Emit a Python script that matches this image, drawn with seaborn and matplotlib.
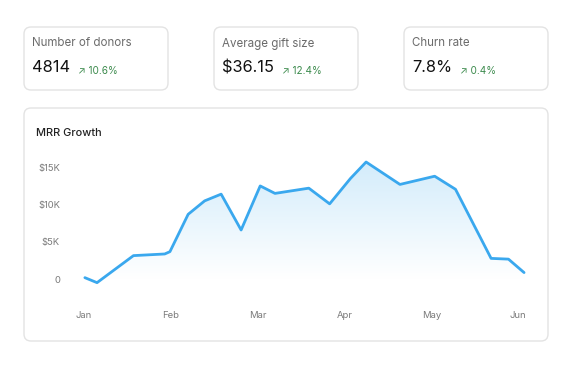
import numpy as np
import matplotlib
matplotlib.use("Agg")
import matplotlib.pyplot as plt
import seaborn as sns
from matplotlib.patches import FancyBboxPatch
from matplotlib.colors import LinearSegmentedColormap

sns.set_style("white")
plt.rcParams['font.family'] = ['Inter', 'DejaVu Sans']

# KPI cards
kpi_titles = ["Number of donors", "Average gift size", "Churn rate"]
kpi_values = ["4814", "$36.15", "7.8%"]
kpi_changes = ["10.6%", "12.4%", "0.4%"]

# MRR growth series (x in months since Jan, y in dollars)
months = ["Jan", "Feb", "Mar", "Apr", "May", "Jun"]
mrr_x = [0.01, 0.15, 0.57, 0.93, 0.99, 1.20, 1.39, 1.58, 1.81, 2.03, 2.20,
         2.59, 2.83, 3.07, 3.25, 3.64, 4.04, 4.28, 4.69, 4.89, 5.07]
mrr_y = [220, -450, 3170, 3390, 3700, 8700, 10500, 11400, 6600, 12500, 11500,
         12200, 10100, 13500, 15700, 12700, 13800, 12050, 2800, 2700, 900]
yticks = [0, 5000, 10000, 15000]
ytick_labels = ["0", "$5K", "$10K", "$15K"]

W, H = 572, 369
fig = plt.figure(figsize=(W / 100, H / 100), dpi=100)
fig.patch.set_facecolor("white")

# background axes in pixel coords for the cards
bg = fig.add_axes([0, 0, 1, 1])
bg.set_xlim(0, W)
bg.set_ylim(H, 0)
bg.axis("off")

def card(x0, y0, x1, y1):
    p = FancyBboxPatch((x0, y0), x1 - x0, y1 - y0,
                       boxstyle="round,pad=0,rounding_size=7",
                       facecolor="white", edgecolor="#e3e3e3", linewidth=1.0)
    bg.add_patch(p)

card_left = [24, 214, 404]
card_w = 144
for i in range(3):
    x0 = card_left[i]
    card(x0, 27, x0 + card_w, 90)
    bg.text(x0 + 8, 46.5, kpi_titles[i], fontsize=8.3, color="#6b6b6b", va="baseline")
    t = bg.text(x0 + 8, 72, kpi_values[i], fontsize=11.8, color="#111111",
                va="baseline")
    fig.canvas.draw()
    bb = t.get_window_extent()
    bg.text(bb.x1 + 8, 73.5, "\u2197 " + kpi_changes[i], fontsize=7.2,
            color="#3b8a4c", va="baseline")

card(24, 108, 548, 341)
bg.text(36, 135.5, "MRR Growth", fontsize=7.9, color="#222222", va="baseline",
        fontweight="medium")

# chart axes
px_month = 86.8
x_lo, x_hi = -0.1, 5.12
y_lo, y_hi = -2000, 16500
px_k = 7.47
left_px = 84 + x_lo * px_month
right_px = 84 + x_hi * px_month
top_px = 279.3 - y_hi / 1000 * px_k
bot_px = 279.3 - y_lo / 1000 * px_k
ax = fig.add_axes([left_px / W, 1 - bot_px / H,
                   (right_px - left_px) / W, (bot_px - top_px) / H])
ax.patch.set_alpha(0)

line_color = "#3aa8ee"
sns.lineplot(x=mrr_x, y=mrr_y, ax=ax, color=line_color, linewidth=2.0,
             solid_joinstyle="round", solid_capstyle="round")

# gradient fill under curve
poly = ax.fill_between(mrr_x, mrr_y, 0, color="none", linewidth=0)
cmap = LinearSegmentedColormap.from_list("g", ["#ffffff", "#d3ecfb"])
grad = np.linspace(0, 1, 256).reshape(-1, 1)
im = ax.imshow(grad, extent=[x_lo, x_hi, 0, max(mrr_y)], origin="lower",
               aspect="auto", cmap=cmap, zorder=0.5)
im.set_clip_path(poly.get_paths()[0], transform=ax.transData)

ax.set_xlim(x_lo, x_hi)
ax.set_ylim(y_lo, y_hi)
ax.set_xticks(range(len(months)))
ax.set_xticklabels(months)
ax.set_yticks(yticks)
ax.set_yticklabels(ytick_labels)
ax.tick_params(axis="both", length=0, labelsize=6.8, labelcolor="#7a7a7a")
ax.tick_params(axis="y", pad=11)
ax.tick_params(axis="x", pad=12)
for s in ax.spines.values():
    s.set_visible(False)

fig.savefig("out.png", dpi=100, facecolor="white")
